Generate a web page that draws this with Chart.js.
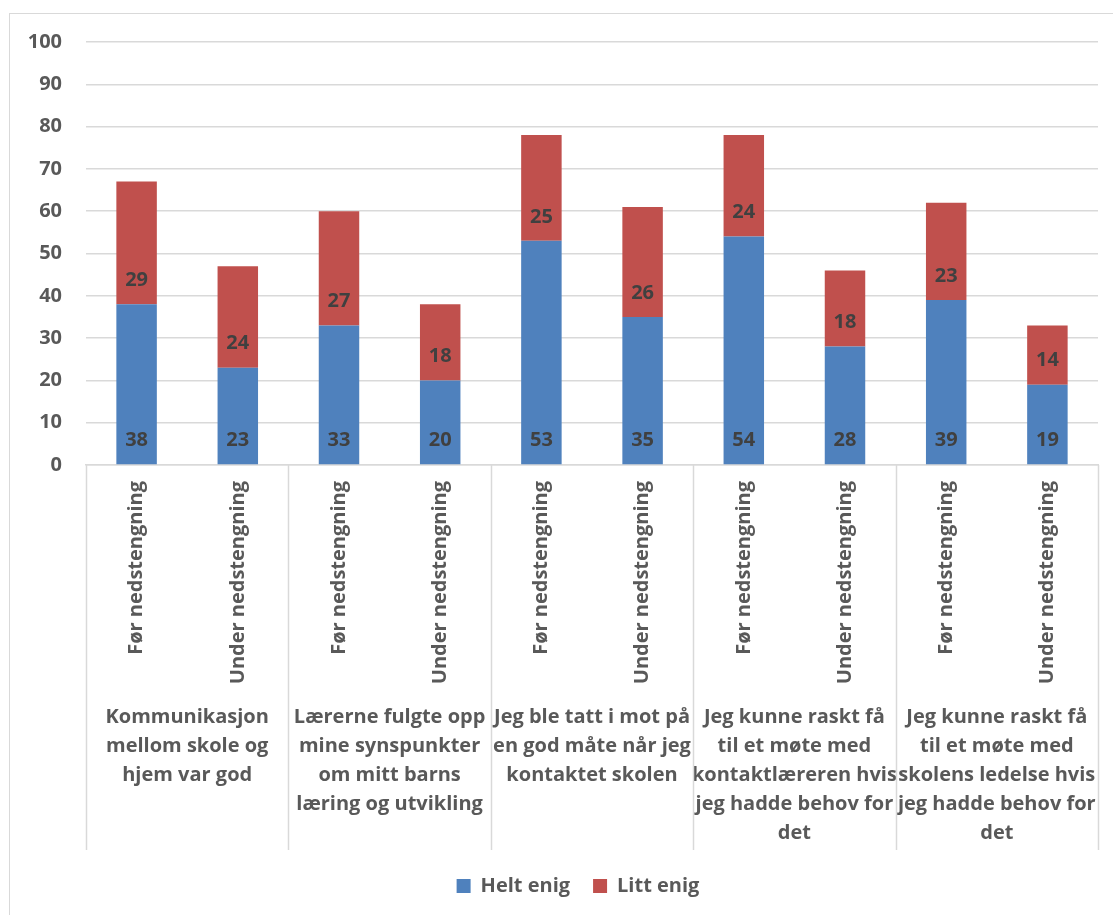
<!DOCTYPE html>
<html>
<head>
<meta charset="utf-8">
<script src="https://cdn.jsdelivr.net/npm/chart.js@4/dist/chart.umd.min.js"></script>
<style>
  html, body { margin: 0; padding: 0; background: #fff; }
  canvas { display: block; }
</style>
</head>
<body>
<canvas id="c" width="1113" height="915"></canvas>
<script>
// Survey answers, percent of parents, before and during the school closure
const periods = ["Før nedstengning", "Under nedstengning"];
const statements = [
  ["Kommunikasjon", "mellom skole og", "hjem var god"],
  ["Lærerne fulgte opp", "mine synspunkter", "om mitt barns", "læring og utvikling"],
  ["Jeg ble tatt i mot på", "en god måte når jeg", "kontaktet skolen"],
  ["Jeg kunne raskt få", "til et møte med", "kontaktlæreren hvis", "jeg hadde behov for", "det"],
  ["Jeg kunne raskt få", "til et møte med", "skolens ledelse hvis", "jeg hadde behov for", "det"]
];
const heltEnig = [38, 23, 33, 20, 53, 35, 54, 28, 39, 19];
const littEnig = [29, 24, 27, 18, 25, 26, 24, 18, 23, 14];
const seriesNames = ["Helt enig", "Litt enig"];
const yMax = 100;
const yStep = 10;

const barLabels = statements.flatMap(() => periods);

const FONT = "'Open Sans', 'DejaVu Sans', sans-serif";
const TEXT = "#595959";
const GRID = "#D9D9D9";

// White page with the thin frame around the chart
const framePlugin = {
  id: "frame",
  beforeDraw(chart) {
    const ctx = chart.ctx;
    ctx.save();
    ctx.fillStyle = "#fff";
    ctx.fillRect(0, 0, chart.width, chart.height);
    ctx.strokeStyle = GRID;
    ctx.lineWidth = 1;
    ctx.strokeRect(9.5, 13.5, chart.width + 20, chart.height + 20);
    ctx.restore();
  }
};

// Nudge the legend row a little to the right of the canvas centre
const legendShift = {
  id: "legendShift",
  afterLayout(chart) {
    if (chart.legend) {
      chart.legend.left += 24;
      chart.legend.right += 24;
    }
  }
};

// Vertical separators between the statement groups below the plot
const groupDividers = {
  id: "groupDividers",
  afterDraw(chart) {
    const x = chart.scales.x;
    const g = chart.scales.x2;
    const half = (x.getPixelForValue(1) - x.getPixelForValue(0)) / 2;
    const ctx = chart.ctx;
    ctx.save();
    ctx.strokeStyle = GRID;
    ctx.lineWidth = 1.5;
    const top = chart.chartArea.bottom;
    const bottom = g.top + 153;
    for (let k = 0; k <= statements.length; k++) {
      const px = k < statements.length
        ? x.getPixelForValue(k * 2) - half
        : x.getPixelForValue(barLabels.length - 1) + half;
      const xx = Math.round(px) + 0.5;
      ctx.beginPath();
      ctx.moveTo(xx, top);
      ctx.lineTo(xx, bottom);
      ctx.stroke();
    }
    ctx.restore();
  }
};

// Value labels placed just inside the base of each segment
const baseLabels = {
  id: "baseLabels",
  afterDatasetsDraw(chart) {
    const ctx = chart.ctx;
    ctx.save();
    ctx.font = "bold 20px " + FONT;
    ctx.fillStyle = "#404040";
    ctx.textAlign = "center";
    ctx.textBaseline = "middle";
    chart.data.datasets.forEach((ds, i) => {
      const meta = chart.getDatasetMeta(i);
      meta.data.forEach((bar, j) => {
        const v = ds.data[j];
        ctx.fillText(String(v), bar.x, bar.base - 24);
      });
    });
    ctx.restore();
  }
};

new Chart(document.getElementById("c"), {
  type: "bar",
  data: {
    labels: barLabels,
    datasets: [
      { label: seriesNames[0], data: heltEnig, backgroundColor: "#4F81BD",
        barPercentage: 0.4, categoryPercentage: 1.0 },
      { label: seriesNames[1], data: littEnig, backgroundColor: "#C0504D",
        barPercentage: 0.4, categoryPercentage: 1.0 }
    ]
  },
  options: {
    responsive: false,
    animation: false,
    devicePixelRatio: 1,
    layout: { padding: { top: 42, left: 10, right: 15, bottom: 9 } },
    plugins: {
      legend: {
        position: "bottom",
        labels: {
          color: TEXT,
          font: { family: FONT, size: 20, weight: "bold" },
          boxWidth: 14,
          boxHeight: 14,
          padding: 23
        }
      },
      tooltip: { enabled: false }
    },
    scales: {
      y: {
        stacked: true,
        min: 0,
        max: yMax,
        ticks: {
          stepSize: yStep,
          color: TEXT,
          padding: 24,
          font: { family: FONT, size: 20, weight: "bold" }
        },
        grid: { color: GRID, lineWidth: 1.5, drawTicks: false },
        border: { display: false },
        afterFit(scale) { scale.width = 76; }
      },
      x: {
        stacked: true,
        offset: true,
        weight: 0,
        ticks: {
          color: TEXT,
          minRotation: 90,
          maxRotation: 90,
          autoSkip: false,
          padding: 16,
          font: { family: FONT, size: 20, weight: "bold" }
        },
        grid: { display: false, drawTicks: false },
        border: { display: true, color: GRID, width: 1.5 },
        afterFit(scale) { scale.height = 232; }
      },
      x2: {
        type: "category",
        position: "bottom",
        labels: statements,
        offset: true,
        weight: 1,
        ticks: {
          color: TEXT,
          minRotation: 0,
          maxRotation: 0,
          autoSkip: false,
          padding: 6,
          font: { family: FONT, size: 20, weight: "bold", lineHeight: 1.45 }
        },
        grid: { display: false, drawTicks: false },
        border: { display: false },
        afterFit(scale) { scale.height = 156; }
      }
    }
  },
  plugins: [framePlugin, legendShift, groupDividers, baseLabels]
});
</script>
</body>
</html>
